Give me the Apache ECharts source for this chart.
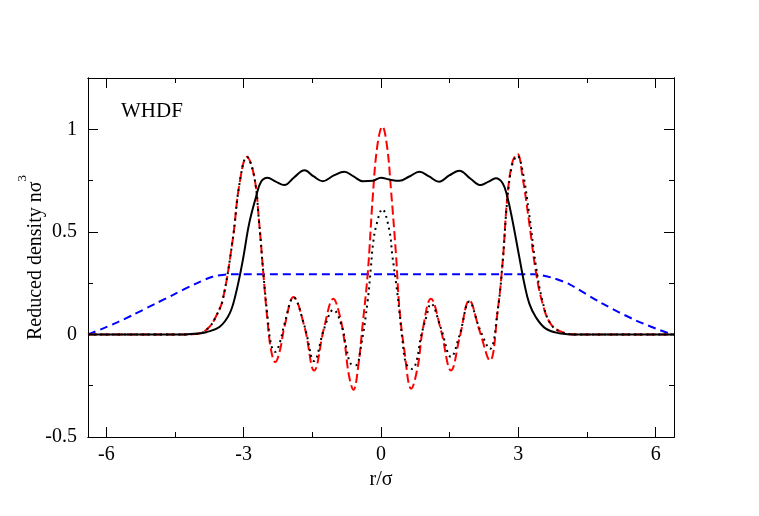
<!DOCTYPE html>
<html>
<head>
<meta charset="UTF-8">
<title>WHDF density</title>
<script src="https://cdn.jsdelivr.net/npm/echarts@6/dist/echarts.min.js"></script>
<style>
  html, body { margin: 0; padding: 0; background: #fff; }
  #main { width: 759px; height: 516px; }
</style>
</head>
<body>
<div id="main"></div>
<script>
// tick positions / labels
var xMajorTicks = [-6, -3, 0, 3, 6];
var xMinorTicks = [-4.5, -1.5, 1.5, 4.5];
var yMajorTicks = [-0.5, 0, 0.5, 1];
var yMinorTicks = [-0.25, 0.25, 0.75];

// black solid curve
var solidX = [-6.4, -4.3, -4.0, -3.82, -3.53, -3.31, -3.17, -3.02, -2.88, -2.73, -2.62, -2.48, -2.30, -2.11, -1.90,
    -1.67, -1.47, -1.27, -1.03, -0.80, -0.60, -0.40, -0.18, 0.0, 0.18, 0.40, 0.62, 0.84, 1.05, 1.27, 1.49, 1.71,
    1.95, 2.18, 2.35, 2.51, 2.66, 2.76, 2.87, 3.02, 3.13, 3.24, 3.38, 3.60, 3.89, 4.3, 6.4];
var solidY = [0, 0, 0.004, 0.011, 0.036, 0.1, 0.2, 0.36, 0.54, 0.67, 0.744, 0.764, 0.745, 0.728, 0.765,
    0.80, 0.77, 0.747, 0.775, 0.793, 0.77, 0.747, 0.749, 0.764, 0.755, 0.749, 0.77, 0.793, 0.77, 0.744, 0.775, 0.798,
    0.76, 0.728, 0.745, 0.761, 0.736, 0.67, 0.557, 0.378, 0.248, 0.15, 0.085, 0.028, 0.006, 0, 0];

// red dashed curve
var redX = [-6.4, -4.3, -3.97, -3.75, -3.6, -3.46, -3.24, -3.09, -2.93, -2.77, -2.66, -2.57, -2.48, -2.40, -2.31,
    -2.21, -2.11, -1.91, -1.67, -1.46, -1.24, -1.04, -0.91, -0.80, -0.70, -0.60, -0.50, -0.40, -0.29, -0.18, -0.08,
    0.03, 0.13, 0.22, 0.33, 0.40, 0.51, 0.66, 0.80, 0.91, 1.09, 1.31, 1.53, 1.72, 1.93, 2.15, 2.38, 2.55, 2.66,
    2.76, 2.87, 2.98, 3.09, 3.24, 3.38, 3.53, 3.71, 3.96, 4.3, 6.4];
var redY = [0, 0, 0.005, 0.036, 0.09, 0.166, 0.46, 0.736, 0.866, 0.77, 0.54, 0.296, 0.068, -0.078, -0.135,
    -0.08, 0.036, 0.182, 0.036, -0.176, 0.036, 0.174, 0.10, -0.03, -0.2, -0.27, -0.16, 0.05, 0.296, 0.67, 0.92,
    1.013, 0.92, 0.70, 0.38, 0.133, -0.078, -0.265, -0.16, 0.02, 0.174, 0.02, -0.176, -0.013, 0.166, 0.02, -0.127, 0.117, 0.36,
    0.67, 0.84, 0.88, 0.77, 0.54, 0.31, 0.15, 0.05, 0.011, 0, 0];

// black dotted curve
var dotX = [-6.4, -4.3, -3.97, -3.75, -3.6, -3.46, -3.24, -3.09, -2.93, -2.77, -2.66, -2.57, -2.48, -2.40, -2.31,
    -2.21, -2.11, -1.91, -1.67, -1.46, -1.24, -1.04, -0.85, -0.76, -0.66, -0.55, -0.44, -0.29, -0.22, -0.18, -0.11,
    0.03, 0.18, 0.25, 0.33, 0.40, 0.47, 0.55, 0.68, 0.78, 0.87, 0.99, 1.09, 1.31, 1.53, 1.72, 1.93, 2.15, 2.38,
    2.55, 2.66, 2.76, 2.87, 2.98, 3.09, 3.24, 3.38, 3.53, 3.71, 3.96, 4.3, 6.4];
var dotY = [0, 0, 0.005, 0.036, 0.09, 0.166, 0.46, 0.736, 0.866, 0.77, 0.54, 0.30, 0.09, -0.05, -0.085,
    -0.04, 0.05, 0.18, 0.04, -0.13, 0.03, 0.12, 0.036, -0.062, -0.143, -0.15, -0.062, 0.166, 0.33, 0.43, 0.524,
    0.61, 0.51, 0.38, 0.25, 0.117, -0.03, -0.143, -0.168, -0.127, -0.013, 0.085, 0.15, 0.03, -0.11, 0.0, 0.16, 0.03, -0.07,
    0.12, 0.36, 0.66, 0.83, 0.87, 0.80, 0.58, 0.34, 0.16, 0.05, 0.01, 0, 0];

// blue dashed curve
var blueX = [-6.4, -6.08, -5.75, -5.42, -4.91, -4.55, -4.04, -3.68, -3.31, 3.4, 3.53, 3.8, 4.11, 4.84, 5.57, 6.29, 6.4];
var blueY = [0, 0.028, 0.06, 0.095, 0.152, 0.192, 0.248, 0.281, 0.293, 0.293, 0.288, 0.272, 0.245, 0.15, 0.068, 0.005, 0];

function pairs(xs, ys) {
    var out = [];
    for (var i = 0; i < xs.length; i++) {
        out.push([xs[i], ys[i]]);
    }
    return out;
}

var serif = 'Liberation Serif';

function xAxisOf(pos, ticks, len, labels) {
    return {
        type: 'value', position: pos, min: -6.4, max: 6.4,
        axisLine: {show: true, onZero: false, lineStyle: {color: '#000', width: 1}},
        axisTick: {show: true, inside: true, length: len, customValues: ticks, lineStyle: {color: '#000', width: 1}},
        axisLabel: labels ? {show: true, customValues: ticks, color: '#000', fontFamily: serif, fontSize: 20, margin: 8}
                          : {show: false},
        splitLine: {show: false}
    };
}

function yAxisOf(pos, ticks, len, labels) {
    return {
        type: 'value', position: pos, min: -0.5, max: 1.25,
        axisLine: {show: true, onZero: false, lineStyle: {color: '#000', width: 1}},
        axisTick: {show: true, inside: true, length: len, customValues: ticks, lineStyle: {color: '#000', width: 1}},
        axisLabel: labels ? {show: true, customValues: ticks, color: '#000', fontFamily: serif, fontSize: 20, margin: 11}
                          : {show: false},
        splitLine: {show: false}
    };
}

var xMain = xAxisOf('bottom', xMajorTicks, 10, true);
xMain.name = 'r/σ';
xMain.nameLocation = 'middle';
xMain.nameGap = 28;
xMain.nameTextStyle = {color: '#000', fontFamily: serif, fontSize: 20};

var yMain = yAxisOf('left', yMajorTicks, 10, true);
yMain.name = '{b|Reduced density nσ}{s|3}';
yMain.nameLocation = 'middle';
yMain.nameGap = 42;
yMain.nameMoveOverlap = false;
yMain.nameTextStyle = {
    color: '#000', fontFamily: serif,
    rich: {
        b: {fontFamily: serif, fontSize: 20, color: '#000', lineHeight: 30, verticalAlign: 'bottom'},
        s: {fontFamily: serif, fontSize: 13, color: '#000', lineHeight: 30, verticalAlign: 'top'}
    }
};

var chart = echarts.init(document.getElementById('main'));
var option = {
    backgroundColor: '#fff',
    animation: false,
    title: {
        text: 'WHDF', left: 116, top: 96,
        textStyle: {color: '#000', fontFamily: serif, fontSize: 21, fontWeight: 'normal'}
    },
    grid: {left: 88, right: 85, top: 78, bottom: 79, outerBoundsMode: 'none', containLabel: false},
    xAxis: [
        xMain,
        xAxisOf('bottom', xMinorTicks, 5, false),
        xAxisOf('top', xMajorTicks, 10, false),
        xAxisOf('top', xMinorTicks, 5, false)
    ],
    yAxis: [
        yMain,
        yAxisOf('left', yMinorTicks, 5, false),
        yAxisOf('right', yMajorTicks, 10, false),
        yAxisOf('right', yMinorTicks, 5, false)
    ],
    series: [
        {
            name: 'blue', type: 'line', data: pairs(blueX, blueY), smooth: 0.3,
            showSymbol: false, lineStyle: {color: '#0000ff', width: 2, type: [8, 5]}
        },
        {
            name: 'red', type: 'line', data: pairs(redX, redY), smooth: 0.4,
            showSymbol: false, lineStyle: {color: '#ff0000', width: 2, type: [9, 4]}
        },
        {
            name: 'dotted', type: 'line', data: pairs(dotX, dotY), smooth: 0.4,
            showSymbol: false, lineStyle: {color: '#000', width: 2, type: [2, 4]}
        },
        {
            name: 'solid', type: 'line', data: pairs(solidX, solidY), smooth: 0.4,
            showSymbol: false, lineStyle: {color: '#000', width: 2}
        }
    ]
};
chart.setOption(option);
</script>
</body>
</html>
